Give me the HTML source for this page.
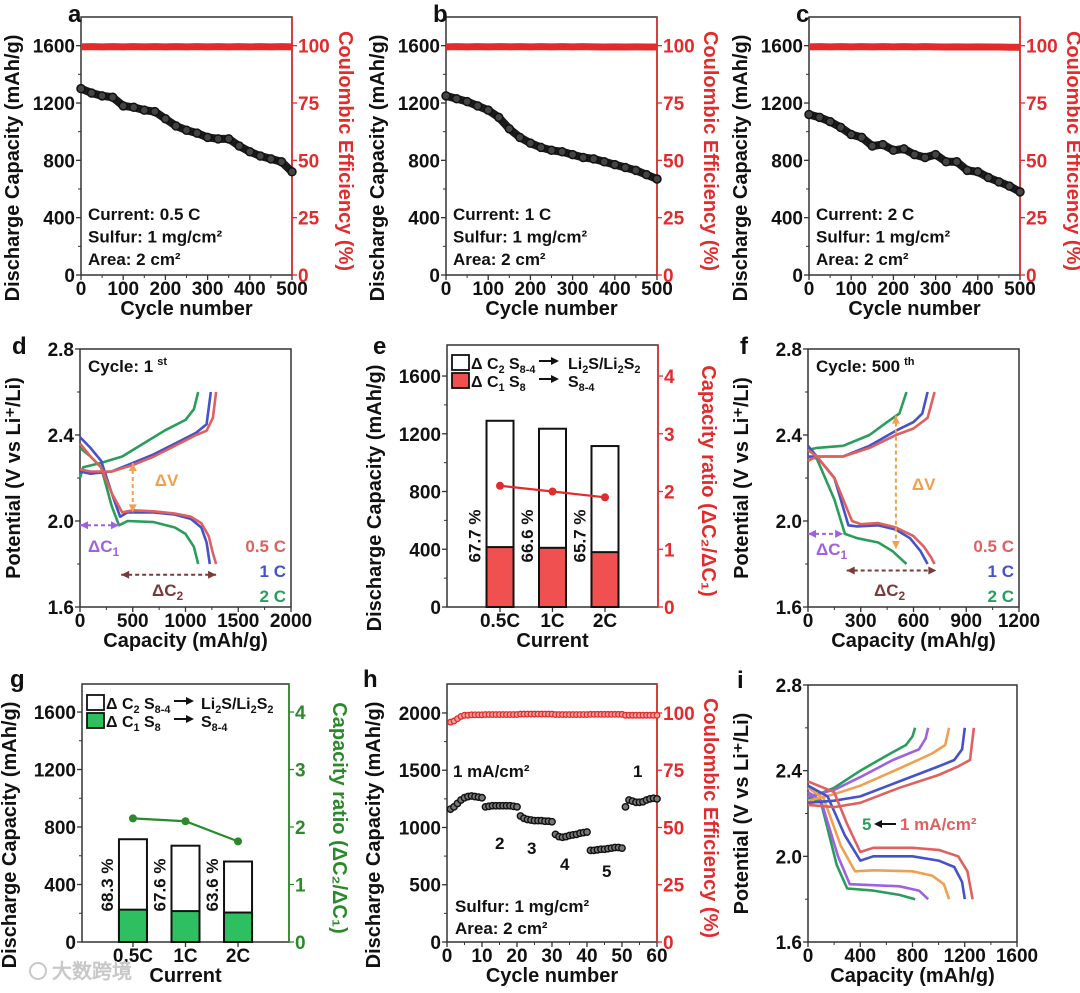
<!DOCTYPE html>
<html><head><meta charset="utf-8"><style>
html,body{margin:0;padding:0;background:#fff;}
svg{display:block;}
text{font-family:"Liberation Sans",Arial,sans-serif;font-weight:bold;}
</style></head>
<body>
<svg id="fig" xmlns="http://www.w3.org/2000/svg" width="1080" height="993" viewBox="0 0 1080 993"></svg>
<script>
// ---------- DATA ----------
const cycles25 = [0,25,50,75,100,125,150,175,200,225,250,275,300,325,350,375,400,425,450,475,500];
const capA = [1300,1270,1250,1240,1180,1170,1150,1140,1090,1040,1010,990,960,950,950,900,860,830,810,790,720];
const capB = [1250,1230,1210,1180,1150,1100,1020,960,920,890,870,860,840,820,810,790,770,750,730,700,670];
const capC = [1120,1100,1070,1030,980,960,900,910,870,880,840,820,840,790,790,730,720,680,650,620,580];
const ceA = [99.5,99.6,99.5,99.6,99.5,99.6,99.5,99.6,99.5,99.6,99.5,99.6,99.5,99.6,99.5,99.6,99.5,99.6,99.5,99.6,99.5];
const ceB = [99.5,99.6,99.5,99.6,99.5,99.6,99.5,99.6,99.5,99.6,99.5,99.6,99.5,99.6,99.5,99.4,99.5,99.4,99.5,99.4,99.4];
const ceC = [99.5,99.6,99.5,99.6,99.5,99.6,99.5,99.6,99.5,99.6,99.5,99.6,99.5,99.4,99.5,99.4,99.5,99.4,99.4,99.3,99.3];

// panel d (1st cycle)
const dDis05 = [[0,2.36],[100,2.3],[200,2.25],[300,2.13],[400,2.04],[500,2.05],[700,2.045],[900,2.035],[1050,2.02],[1150,1.99],[1220,1.93],[1260,1.85],[1290,1.8]];
const dDis1 = [[0,2.39],[100,2.34],[200,2.28],[300,2.13],[380,2.02],[450,2.04],[700,2.04],[900,2.03],[1050,2.01],[1150,1.97],[1200,1.9],[1230,1.8]];
const dDis2 = [[0,2.34],[100,2.3],[200,2.25],[300,2.07],[370,1.98],[450,2.0],[700,1.995],[900,1.97],[1000,1.94],[1080,1.88],[1120,1.8]];
const dCh05 = [[0,2.24],[100,2.23],[300,2.23],[500,2.26],[700,2.3],[900,2.35],[1100,2.4],[1200,2.42],[1260,2.48],[1290,2.6]];
const dCh1 = [[0,2.23],[100,2.22],[300,2.23],[500,2.27],[700,2.31],[900,2.36],[1100,2.41],[1200,2.45],[1240,2.6]];
const dCh2 = [[0,2.2],[30,2.25],[200,2.27],[400,2.3],[600,2.36],[800,2.42],[1000,2.47],[1080,2.52],[1120,2.6]];

// panel f (500th cycle)
const fDis05 = [[0,2.33],[50,2.3],[150,2.2],[250,2.0],[300,1.985],[400,1.99],[500,1.97],[600,1.93],[660,1.88],[700,1.83],[720,1.8]];
const fDis1 = [[0,2.35],[50,2.3],[150,2.2],[230,1.98],[280,1.975],[400,1.98],[500,1.96],[580,1.92],[640,1.86],[680,1.8]];
const fDis2 = [[0,2.3],[50,2.29],[150,2.1],[210,1.94],[280,1.92],[400,1.9],[480,1.86],[560,1.8]];
const fCh05 = [[0,2.28],[50,2.3],[200,2.3],[350,2.34],[500,2.4],[600,2.43],[680,2.48],[720,2.6]];
const fCh1 = [[0,2.3],[50,2.3],[200,2.3],[350,2.35],[500,2.42],[600,2.46],[650,2.5],[680,2.6]];
const fCh2 = [[0,2.33],[50,2.34],[200,2.35],[350,2.4],[450,2.46],[520,2.5],[560,2.6]];

// panel e / g bars
const rateCats = ["0.5C","1C","2C"];
const eTotal = [1290,1235,1115];
const eC1 = [415,410,380];
const eRatio = [2.1,2.0,1.9];
const ePct = ["67.7 %","66.6 %","65.7 %"];
const gTotal = [715,670,560];
const gC1 = [225,215,205];
const gRatio = [2.15,2.1,1.75];
const gPct = ["68.3 %","67.6 %","63.6 %"];

// panel h (rate)
const hCycles = [1,2,3,4,5,6,7,8,9,10,11,12,13,14,15,16,17,18,19,20,21,22,23,24,25,26,27,28,29,30,31,32,33,34,35,36,37,38,39,40,41,42,43,44,45,46,47,48,49,50,51,52,53,54,55,56,57,58,59,60];
const hCap = [1160,1180,1210,1240,1260,1270,1275,1270,1265,1260,1180,1185,1190,1190,1190,1190,1190,1190,1185,1180,1100,1080,1070,1065,1060,1060,1060,1055,1055,1050,940,920,915,920,930,935,940,950,955,960,800,800,805,810,810,815,820,825,825,820,1180,1240,1230,1220,1220,1225,1240,1250,1255,1250];
const hCE = [96,96.5,97.5,98.5,99,99,99.2,99.2,99.2,99.2,99.3,99.3,99.3,99.3,99.3,99.3,99.3,99.3,99.3,99.3,99.5,99.5,99.5,99.5,99.5,99.5,99.5,99.5,99.5,99.5,99.3,99.3,99.3,99.3,99.3,99.3,99.3,99.3,99.3,99.3,99.4,99.4,99.4,99.4,99.4,99.4,99.4,99.4,99.4,99.4,99,99,99,99,99,99,99,99,99,99];

// panel i (different current densities)
const iDis1 = [[0,2.35],[200,2.3],[300,2.15],[400,2.02],[500,2.04],[800,2.04],[1000,2.03],[1150,2.0],[1220,1.93],[1260,1.8]];
const iDis2 = [[0,2.33],[150,2.28],[280,2.1],[400,1.98],[500,2.0],[800,2.0],[1000,1.98],[1120,1.95],[1180,1.88],[1200,1.8]];
const iDis3 = [[0,2.32],[120,2.27],[250,2.05],[360,1.93],[500,1.935],[800,1.93],[950,1.91],[1040,1.87],[1080,1.8]];
const iDis4 = [[0,2.3],[100,2.26],[230,2.0],[320,1.87],[500,1.865],[700,1.86],[850,1.84],[920,1.8]];
const iDis5 = [[0,2.28],[100,2.25],[220,1.96],[300,1.85],[500,1.84],[700,1.82],[820,1.8]];
const iCh1 = [[0,2.24],[200,2.23],[400,2.25],[700,2.32],[1000,2.38],[1150,2.42],[1240,2.45],[1270,2.6]];
const iCh2 = [[0,2.25],[200,2.26],[400,2.28],[700,2.35],[1000,2.42],[1120,2.45],[1180,2.5],[1200,2.6]];
const iCh3 = [[0,2.26],[200,2.29],[400,2.33],[700,2.41],[950,2.48],[1050,2.52],[1080,2.6]];
const iCh4 = [[0,2.28],[200,2.31],[400,2.37],[650,2.45],[850,2.5],[900,2.55],[920,2.6]];
const iCh5 = [[0,2.27],[200,2.32],[400,2.4],[600,2.47],[750,2.52],[800,2.56],[820,2.6]];

// ---------- HELPERS ----------
const NS = "http://www.w3.org/2000/svg";
const svg = document.getElementById('fig');
const RED = "#e32b2b", GRN = "#2a8a2a";
const C05 = "#e06060", C1 = "#4652c8", C2 = "#2a9d5c", CO = "#f0a050", CP = "#a060e0";
function mk(tag, attrs, parent){ const e=document.createElementNS(NS,tag); for(const k in attrs) e.setAttribute(k, attrs[k]); (parent||svg).appendChild(e); return e; }
function lin(d0,d1,r0,r1){ return v => r0 + (v-d0)/(d1-d0)*(r1-r0); }
function txt(x,y,s,size,opts,parent){ const t = mk('text', Object.assign({x:x,y:y,'font-size':size,fill:'#111'}, opts||{}), parent); t.textContent = s; return t; }
function rich(x,y,parts,size,parent){
  const t = mk('text', {x:x, y:y, 'font-size':size, fill:'#111'}, parent);
  let low = false;
  parts.forEach(p => {
    const sub = p[1] === 'sub';
    const ts = mk('tspan', {'font-size': sub ? size*0.68 : size}, t);
    if (sub && !low){ ts.setAttribute('dy', 4); low = true; }
    else if (!sub && low){ ts.setAttribute('dy', -4); low = false; }
    ts.textContent = p[0];
  });
  return t;
}

function axes(p){
  const g = mk('g', {});
  
  
  const X = lin(p.xd[0], p.xd[1], p.x0, p.x1);
  const Y = lin(p.yd[0], p.yd[1], p.yBot, p.yTop);
  const Y2 = p.y2d ? lin(p.y2d[0], p.y2d[1], p.yBot, p.yTop) : null;
  const box = mk('rect', {x:p.x0, y:p.yTop, width:p.x1-p.x0, height:p.yBot-p.yTop, fill:'none', stroke:'#333', 'stroke-width':1.5}, g);
  
  
  p.xticks.forEach((v,i) => {
    const tk = mk('line', {x1:X(v), x2:X(v), y1:p.yBot, y2:p.yBot+5, stroke:'#333', 'stroke-width':1.3}, g);
    
    
    const lb = txt(X(v), p.yBot+20, p.xlabels ? p.xlabels[i] : String(v), 19, {'text-anchor':'middle'}, g);
    
    
  });
  if (p.xminor) p.xminor.forEach(v => {
    const tk = mk('line', {x1:X(v), x2:X(v), y1:p.yBot, y2:p.yBot+3, stroke:'#333', 'stroke-width':1}, g);
    
    
  });
  p.yticks.forEach((v,i) => {
    const tk = mk('line', {x1:p.x0-5, x2:p.x0, y1:Y(v), y2:Y(v), stroke:'#333', 'stroke-width':1.3}, g);
    
    
    const lb = txt(p.x0-6, Y(v)+7, p.ylabels ? p.ylabels[i] : String(v), 19, {'text-anchor':'end'}, g);
    
    
  });
  if (p.yminor) p.yminor.forEach(v => {
    const tk = mk('line', {x1:p.x0-3, x2:p.x0, y1:Y(v), y2:Y(v), stroke:'#333', 'stroke-width':1}, g);
    
    
  });
  if (Y2){
    const ax = mk('line', {x1:p.x1, x2:p.x1, y1:p.yTop, y2:p.yBot, stroke:p.y2color, 'stroke-width':1.6}, g);
    
    
    p.y2ticks.forEach(v => {
      const tk = mk('line', {x1:p.x1, x2:p.x1+5, y1:Y2(v), y2:Y2(v), stroke:p.y2color, 'stroke-width':1.3}, g);
      
      
      const lb = txt(p.x1+6, Y2(v)+7, String(v), 19, {fill:p.y2color}, g);
      
      
    });
    const t2 = txt(0, 0, p.y2Title, 20, {fill:p.y2color, 'text-anchor':'middle', transform:'translate('+p.y2TitleX+','+((p.yTop+p.yBot)/2+5)+') rotate(90)'}, g);
    
    
  }
  const xt = txt((p.x0+p.x1)/2, p.yBot+40, p.xTitle, 20, {'text-anchor':'middle'}, g);
  
  
  const yt = txt(0, 0, p.yTitle, 20, {'text-anchor':'middle', transform:'translate('+p.yTitleX+','+((p.yTop+p.yBot)/2+(p.yTitleDy||0))+') rotate(-90)'}, g);
  
  
  const pl = txt(p.letterX, p.letterY, p.letter, 24, {}, g);
  
  
  return {X, Y, Y2, g};
}
function pathOf(pts, X, Y){ return pts.map((q,i)=>(i?'L':'M')+X(q[0]).toFixed(1)+' '+Y(q[1]).toFixed(1)).join(' '); }
function curve(pts, ax, color, name){
  const e = mk('path', {d:pathOf(pts, ax.X, ax.Y), fill:'none', stroke:color, 'stroke-width':2.6, 'stroke-linejoin':'round'}, ax.g);
  
  
}
function head(x1,y1,x2,y2,color,name,g){
  const a = Math.atan2(y2-y1, x2-x1); const L=8, W=4;
  const bx = x2-L*Math.cos(a), by = y2-L*Math.sin(a);
  const pt = x2+','+y2+' '+(bx-W*Math.sin(a))+','+(by+W*Math.cos(a))+' '+(bx+W*Math.sin(a))+','+(by-W*Math.cos(a));
  const hd = mk('polygon', {points:pt, fill:color}, g);
  
  
}
function arrowLine(x1,y1,x2,y2,color,name,g,both){
  const ln = mk('line', {x1:x1,y1:y1,x2:x2,y2:y2,stroke:color,'stroke-width':2,'stroke-dasharray':'4 3'}, g);
  
  
  head(x1,y1,x2,y2,color,name,g);
  if (both) head(x2,y2,x1,y1,color,name,g);
}

// ---------- PANELS a,b,c ----------
function cyclePanel(cfg, cap, ce){
  const ax = axes({name:cfg.name, x0:cfg.x0, x1:cfg.x0+211, yTop:17, yBot:275, xd:[0,500], yd:[0,1800], y2d:[0,112.5],
    xticks:[0,100,200,300,400,500], xminor:[50,150,250,350,450], yticks:[0,400,800,1200,1600], yminor:[200,600,1000,1400],
    y2ticks:[0,25,50,75,100], y2color:RED, xTitle:'Cycle number', yTitle:'Discharge Capacity (mAh/g)', y2Title:'Coulombic Efficiency (%)',
    yTitleX:cfg.x0-62, y2TitleX:cfg.x0+258, yTitleDy:22, letter:cfg.letter, letterX:cfg.x0-13, letterY:22});
  const cp = mk('polyline', {points:cycles25.map((c,i)=>ax.X(c)+','+ax.Y2(ce[i])).join(' '), fill:'none', stroke:RED, 'stroke-width':7}, ax.g);
  
  
  const kp = mk('polyline', {points:cycles25.map((c,i)=>ax.X(c)+','+ax.Y(cap[i])).join(' '), fill:'none', stroke:'#1a1a1a', 'stroke-width':8, 'stroke-linejoin':'round'}, ax.g);
  
  
  cycles25.forEach((c,i)=>{
    const m = mk('circle', {cx:ax.X(c), cy:ax.Y(cap[i]), r:4, fill:'#444', stroke:'#111', 'stroke-width':1.5}, ax.g);
    
    
  });
  const lines = [cfg.cur, 'Sulfur: 1 mg/cm²', 'Area: 2 cm²'];
  lines.forEach((s,i)=>{
    const t = txt(cfg.x0+7, 220+i*22.5, s, 17, {}, ax.g);
    
    
  });
}
cyclePanel({name:'panel-a', x0:81, letter:'a', cur:'Current: 0.5 C'}, capA, ceA);
cyclePanel({name:'panel-b', x0:446, letter:'b', cur:'Current: 1 C'}, capB, ceB);
cyclePanel({name:'panel-c', x0:809, letter:'c', cur:'Current: 2 C'}, capC, ceC);

// ---------- PANELS d,f ----------
function voltPanel(cfg, dis, ch, ann){
  const ax = axes({name:cfg.name, x0:cfg.x0, x1:cfg.x0+211, yTop:349, yBot:607, xd:[0,cfg.xmax], yd:[1.6,2.8],
    xticks:cfg.xt, xminor:cfg.xm, yticks:[1.6,2.0,2.4,2.8], ylabels:['1.6','2.0','2.4','2.8'], yminor:[1.8,2.2,2.6],
    xTitle:'Capacity (mAh/g)', yTitle:'Potential (V vs Li⁺/Li)', yTitleX:cfg.x0-60, letter:cfg.letter, letterX:cfg.x0-68, letterY:354});
  const cols = [C05, C1, C2], nm = ['05c','1c','2c'];
  [2,1,0].forEach(k => { curve(dis[k], ax, cols[k], 'discharge-curve-'+nm[k]); curve(ch[k], ax, cols[k], 'charge-curve-'+nm[k]); });
  arrowLine(ax.X(ann.dvx), ax.Y(ann.dv[0]), ax.X(ann.dvx), ax.Y(ann.dv[1]), CO, 'delta-v-arrow', ax.g, true);
  arrowLine(ax.X(0), ax.Y(ann.c1y), ax.X(ann.c1x), ax.Y(ann.c1y), CP, 'delta-c1-arrow', ax.g, true);
  arrowLine(ax.X(ann.c2[0]), ax.Y(ann.c2y), ax.X(ann.c2[1]), ax.Y(ann.c2y), '#7a3a3a', 'delta-c2-arrow', ax.g, true);
  const a1 = txt(ax.X(ann.dvx)+ann.dvLx, ann.dvLy, 'ΔV', 17, {fill:CO}, ax.g);
   
  const a2 = txt(cfg.x0+8, cfg.c1Ly, 'ΔC', 17, {fill:CP}, ax.g);
   
  const s1 = mk('tspan', {'font-size':12, dy:4}, a2); s1.textContent='1';
  const a3 = txt(cfg.x0+cfg.c2Lx, 596, 'ΔC', 17, {fill:'#7a3a3a'}, ax.g);
   
  const s2 = mk('tspan', {'font-size':12, dy:4}, a3); s2.textContent='2';
  [['0.5 C',C05,555],['1 C',C1,580],['2 C',C2,605]].forEach(r=>{
    const t = txt(cfg.x0+206, r[2]-3, r[0], 17, {fill:r[1], 'text-anchor':'end'}, ax.g);
     
  });
  const cy = txt(cfg.x0+8, 372, cfg.cycle, 17, {}, ax.g);
   
  const sup = mk('tspan', {'font-size':11, dy:-7, dx:4}, cy); sup.textContent = cfg.sup;
}
voltPanel({name:'panel-d', x0:80, xmax:2000, xt:[0,500,1000,1500,2000], xm:[250,750,1250,1750], letter:'d', cycle:'Cycle: 1', sup:'st', c1Ly:552, c2Lx:72},
  [dDis05,dDis1,dDis2],[dCh05,dCh1,dCh2], {dvx:500, dv:[2.27,2.04], dvLx:22, dvLy:486, c1x:370, c1y:1.98, c2:[390,1290], c2y:1.75});
voltPanel({name:'panel-f', x0:808, xmax:1200, xt:[0,300,600,900,1200], xm:[150,450,750,1050], letter:'f', cycle:'Cycle: 500', sup:'th', c1Ly:555, c2Lx:66},
  [fDis05,fDis1,fDis2],[fCh05,fCh1,fCh2], {dvx:500, dv:[2.49,1.87], dvLx:16, dvLy:490, c1x:200, c1y:1.94, c2:[220,730], c2y:1.77});

// ---------- PANELS e,g ----------
function barPanel(cfg, total, c1, ratio, pct){
  const ax = axes({name:cfg.name, x0:cfg.x0, x1:cfg.x1, yTop:cfg.yTop, yBot:cfg.yBot, xd:cfg.xd, yd:[0,cfg.ymax], y2d:[0,cfg.ymax/400],
    xticks:[0,1,2], xlabels:rateCats, yticks:[0,400,800,1200,1600], yminor:[200,600,1000,1400], y2ticks:[0,1,2,3,4], y2color:cfg.col,
    xTitle:'Current', yTitle:'Discharge Capacity (mAh/g)', y2Title:'Capacity ratio (ΔC₂/ΔC₁)', yTitleX:cfg.x0-66, yTitleDy:22,
    y2TitleX:cfg.x1+44, letter:cfg.letter, letterX:cfg.letterX, letterY:cfg.letterY});
  const bw = cfg.bw;
  rateCats.forEach((c,i)=>{
    const xl = ax.X(i)-bw/2;
    const b1 = mk('rect', {x:xl, y:ax.Y(total[i]), width:bw, height:ax.Y(0)-ax.Y(total[i]), fill:'#fff', stroke:'#111', 'stroke-width':2}, ax.g);
    
    
    const b2 = mk('rect', {x:xl, y:ax.Y(c1[i]), width:bw, height:ax.Y(0)-ax.Y(c1[i]), fill:cfg.fill, stroke:'#111', 'stroke-width':2}, ax.g);
    
    
    const pt = txt(0,0,pct[i],17,{'text-anchor':'middle', transform:'translate('+(xl-6)+','+cfg.pctY+') rotate(-90)', 'font-weight':'normal'}, ax.g);
    
    
  });
  const rl = mk('polyline', {points:ratio.map((r,i)=>ax.X(i)+','+ax.Y2(r)).join(' '), fill:'none', stroke:cfg.col, 'stroke-width':2.2}, ax.g);
  
  
  ratio.forEach((r,i)=>{
    const m = mk('circle', {cx:ax.X(i), cy:ax.Y2(r), r:4, fill:cfg.col}, ax.g);
    
    
  });
  const lg = mk('g', {}, ax.g);
  
  
  const rows = [
    [cfg.legY, '#fff', [['Δ C',''],['2','sub']], [['S',''],['8-4','sub']], [['Li',''],['2','sub'],['S/Li',''],['2','sub'],['S',''],['2','sub']]],
    [cfg.legY+18, cfg.fill, [['Δ C',''],['1','sub']], [['S',''],['8','sub']], [['S',''],['8-4','sub']]]
  ];
  rows.forEach(L=>{
    const sq = mk('rect', {x:cfg.x0+5, y:L[0], width:17, height:15, fill:L[1], stroke:'#111', 'stroke-width':1.8}, lg);
    
    
    const t = rich(cfg.x0+24, L[0]+14, L[2], 16, lg);
    
    
    const t1 = rich(cfg.x0+62, L[0]+14, L[3], 16, lg);
    
    
    const ay = L[0]+6;
    const al = mk('line', {x1:cfg.x0+92, y1:ay, x2:cfg.x0+110, y2:ay, stroke:'#111', 'stroke-width':2}, lg);
    
    
    head(cfg.x0+102, ay, cfg.x0+112, ay, '#111', 'legend-arrow', lg);
    const t2 = rich(cfg.x0+cfg.prodX, L[0]+14, L[4], 16, lg);
    
    
  });
}
barPanel({name:'panel-e', x0:447, x1:658, yTop:345, yBot:607, xd:[-1.01,3.01], ymax:1815, bw:27, col:RED, fill:'#f05050', letter:'e', letterX:373, letterY:354, pctY:536, legY:355, prodX:121},
  eTotal, eC1, eRatio, ePct);
barPanel({name:'panel-g', x0:82, x1:289, yTop:684, yBot:942, xd:[-0.97,2.97], ymax:1795, bw:28, col:GRN, fill:'#2ec060', letter:'g', letterX:10, letterY:687, pctY:885, legY:695, prodX:119},
  gTotal, gC1, gRatio, gPct);

// ---------- PANEL h ----------
(function(){
  const ax = axes({name:'panel-h', x0:447, x1:657, yTop:684, yBot:942, xd:[0,60], yd:[0,2253], y2d:[0,112.65],
    xticks:[0,10,20,30,40,50,60], xminor:[5,15,25,35,45,55], yticks:[0,500,1000,1500,2000], yminor:[250,750,1250,1750],
    y2ticks:[0,25,50,75,100], y2color:RED, xTitle:'Cycle number', yTitle:'Discharge Capacity (mAh/g)', y2Title:'Coulombic Efficiency (%)',
    yTitleX:380, y2TitleX:704, yTitleDy:22, letter:'h', letterX:363, letterY:687});
  hCycles.forEach((c,i)=>{
    const m = mk('circle', {cx:ax.X(c), cy:ax.Y2(hCE[i]), r:2.8, fill:'#f3a0a0', stroke:RED, 'stroke-width':1.3}, ax.g);
    
    
  });
  hCycles.forEach((c,i)=>{
    const m = mk('circle', {cx:ax.X(c), cy:ax.Y(hCap[i]), r:3.2, fill:'#777', stroke:'#111', 'stroke-width':1.4}, ax.g);
    
    
  });
  [['1 mA/cm²',453,777],['1',633,777],['2',495,849],['3',527,854],['4',560,870],['5',602,877],['Sulfur: 1 mg/cm²',455,912],['Area: 2 cm²',455,934]].forEach(a=>{
    const t = txt(a[1], a[2], a[0], 17, {}, ax.g);
    
    
  });
})();

// ---------- PANEL i ----------
(function(){
  const ax = axes({name:'panel-i', x0:808, x1:1017, yTop:685, yBot:942, xd:[0,1600], yd:[1.6,2.8],
    xticks:[0,400,800,1200,1600], xminor:[200,600,1000,1400], yticks:[1.6,2.0,2.4,2.8], ylabels:['1.6','2.0','2.4','2.8'], yminor:[1.8,2.2,2.6],
    xTitle:'Capacity (mAh/g)', yTitle:'Potential (V vs Li⁺/Li)', yTitleX:748, letter:'i', letterX:737, letterY:688});
  const dis = [iDis1,iDis2,iDis3,iDis4,iDis5], ch = [iCh1,iCh2,iCh3,iCh4,iCh5], cols = [C05,C1,CO,CP,C2];
  [4,3,2,1,0].forEach(k=>{ curve(dis[k], ax, cols[k], 'discharge-curve-'+(k+1)); curve(ch[k], ax, cols[k], 'charge-curve-'+(k+1)); });
  const t5 = txt(862, 830, '5', 17, {fill:C2}, ax.g);
   
  const al = mk('line', {x1:876, y1:824, x2:896, y2:824, stroke:'#111', 'stroke-width':2}, ax.g);
   
  head(884, 824, 874, 824, '#111', 'current-arrow', ax.g);
  const t1 = txt(900, 830, '1 mA/cm²', 17, {fill:C05}, ax.g);
   
})();

// watermark
const wm = txt(52, 978, '大数跨境', 20, {fill:'#c8c8c8', 'font-family':'"Liberation Sans","Noto Sans CJK SC",sans-serif', 'font-weight':'normal'});


const wi = mk('circle', {cx:38, cy:971, r:8, fill:'none', stroke:'#c8c8c8', 'stroke-width':2});


</script>
</body></html>
